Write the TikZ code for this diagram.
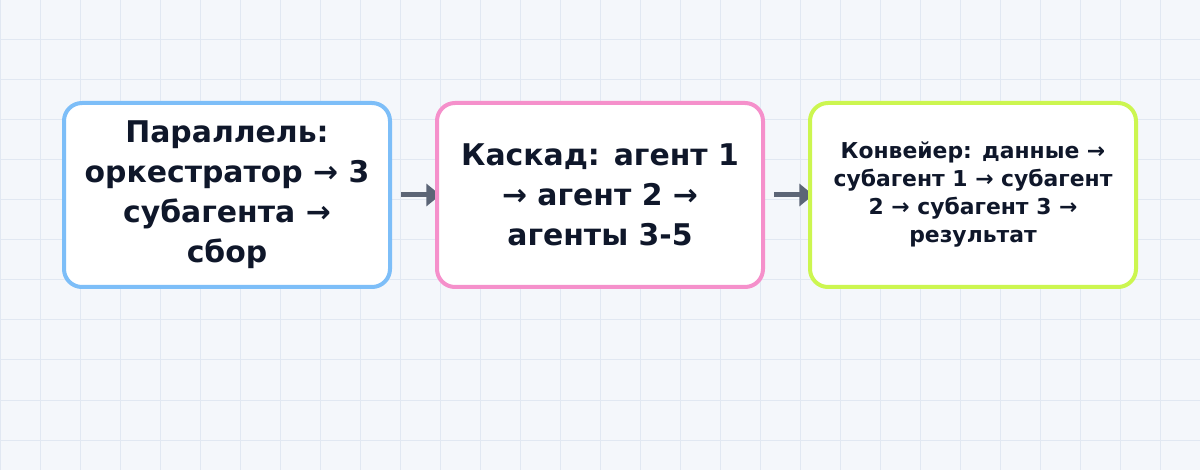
\documentclass[tikz,border=0pt]{standalone}
\usepackage{fontspec}
\setmainfont{DejaVu Sans}
\usetikzlibrary{positioning,arrows.meta}

\definecolor{paper}{HTML}{F4F7FB}
\definecolor{gridline}{HTML}{E1E8F2}
\definecolor{parblue}{HTML}{7DBEF8}
\definecolor{caspink}{HTML}{F590CB}
\definecolor{conlime}{HTML}{CCF650}
\definecolor{ink}{HTML}{0F172A}
\definecolor{flowgray}{HTML}{5B6576}

\pgfdeclarelayer{gridlayer}
\pgfdeclarelayer{flowlayer}
\pgfsetlayers{gridlayer,flowlayer,main}

\tikzset{
  stagebox/.style={draw, line width=3pt, rounded corners=13.5pt, fill=white,
    minimum width=244.5pt, minimum height=138pt, inner sep=0pt,
    align=center, text=ink, font=\bfseries},
  bigtext/.style={font=\fontsize{22.4}{30}\selectfont\bfseries},
  smalltext/.style={font=\fontsize{16.4}{21}\selectfont\bfseries},
  flow/.style={draw=flowgray, line width=3.75pt,
    -{Triangle[length=10.5pt,width=16.5pt]}, shorten <=6.75pt, shorten >=-4pt},
}

\begin{document}
\begin{tikzpicture}[x=0.75pt, y=-0.75pt, node distance=32.25pt]

\useasboundingbox (0,0) rectangle (1200,470);

% paper and grid
\begin{pgfonlayer}{gridlayer}
\fill[paper] (0,0) rectangle (1200,470);
\foreach \gx in {0,40,...,1200} {
  \draw[gridline, line width=0.75pt] (\gx,0) -- (\gx,470);
}
\foreach \gy in {0,40,...,440} {
  \draw[gridline, line width=0.75pt] (0,\gy) -- (1200,\gy);
}
\end{pgfonlayer}

% stages
\node[stagebox, draw=parblue, bigtext] at (227,195) (par)
  {Параллель:\\оркестратор → 3\\субагента →\\сбор};
\node[stagebox, draw=caspink, bigtext, right=of par] (cas)
  {Каскад: агент 1\\→ агент 2 →\\агенты 3-5};
\node[stagebox, draw=conlime, smalltext, right=of cas] (con)
  {Конвейер: данные →\\субагент 1 → субагент\\2 → субагент 3 →\\результат};

% connectors
\begin{pgfonlayer}{flowlayer}
\draw[flow] (par.east) -- (cas.west);
\draw[flow] (cas.east) -- (con.west);
\end{pgfonlayer}

\end{tikzpicture}
\end{document}
